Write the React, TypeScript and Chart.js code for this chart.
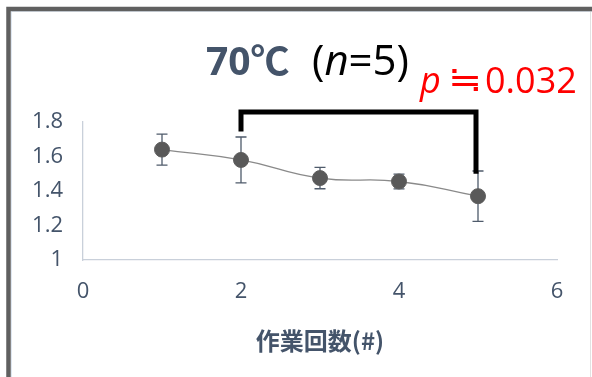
import { useEffect, useRef } from 'react';
import { Chart, registerables } from 'chart.js';

Chart.register(...registerables);

// Mean value per run with its standard deviation
const runs = [1, 2, 3, 4, 5];
const means = [1.64, 1.58, 1.475, 1.455, 1.37];
const errors = [0.09, 0.133, 0.062, 0.043, 0.146];

// Axis ranges
const xRange = [0, 6];
const xStep = 2;
const yRange = [1, 1.8];
const yStep = 0.2;

// Significance bracket between run 2 and run 5
const bracketRuns = [2, 5];
const bracketTop = 1.858;
const bracketEnds = [1.745, 1.5];

const xAxisTitle = '作業回数(#)';
const titleMain = '70℃';
const titleN = ['(', 'n', '=5)'];
const pLabel = ['p', '≒', '0.032'];

const SLATE = '#44546a';
const FONT = '"Open Sans", "Noto Sans CJK JP", sans-serif';
const CJK = '"Noto Sans CJK JP", sans-serif';

const framePlugin = {
  id: 'frame',
  beforeDraw(chart: any) {
    const { ctx, width, height } = chart;
    ctx.save();
    ctx.fillStyle = '#ffffff';
    ctx.fillRect(0, 0, width, height);
    // light inner edge
    ctx.strokeStyle = '#dfe7f1';
    ctx.lineWidth = 1;
    ctx.beginPath();
    ctx.moveTo(11.5, height);
    ctx.lineTo(11.5, 11.5);
    ctx.lineTo(width, 11.5);
    ctx.stroke();
    // right edge
    ctx.strokeStyle = '#e2e2e2';
    ctx.beginPath();
    ctx.moveTo(590.5, 11);
    ctx.lineTo(590.5, height);
    ctx.stroke();
    // dark outer frame
    ctx.strokeStyle = '#606060';
    ctx.lineWidth = 4.5;
    ctx.beginPath();
    ctx.moveTo(8.5, height);
    ctx.lineTo(8.5, 9);
    ctx.lineTo(width, 9);
    ctx.stroke();
    ctx.restore();
  },
};

const errorBarPlugin = {
  id: 'errorBars',
  beforeDatasetsDraw(chart: any) {
    const { ctx } = chart;
    const xs = chart.scales.x;
    const ys = chart.scales.y;
    ctx.save();
    ctx.strokeStyle = '#4f5b6b';
    ctx.lineWidth = 1.3;
    runs.forEach((r, i) => {
      const x = xs.getPixelForValue(r);
      const top = ys.getPixelForValue(means[i] + errors[i]);
      const bot = ys.getPixelForValue(means[i] - errors[i]);
      ctx.beginPath();
      ctx.moveTo(x, top);
      ctx.lineTo(x, bot);
      ctx.moveTo(x - 5.5, top);
      ctx.lineTo(x + 5.5, top);
      ctx.moveTo(x - 5.5, bot);
      ctx.lineTo(x + 5.5, bot);
      ctx.stroke();
    });
    ctx.restore();
  },
};

const drawSegments = (ctx: any, x: number, y: number, parts: { text: string; font: string; color: string }[]) => {
  let cx = x;
  parts.forEach((p) => {
    ctx.font = p.font;
    ctx.fillStyle = p.color;
    ctx.fillText(p.text, cx, y);
    cx += ctx.measureText(p.text).width;
  });
};

const annotationPlugin = {
  id: 'annotations',
  afterDraw(chart: any) {
    const { ctx } = chart;
    const xs = chart.scales.x;
    const ys = chart.scales.y;
    ctx.save();
    // bracket
    const xl = xs.getPixelForValue(bracketRuns[0]);
    const xr = xs.getPixelForValue(bracketRuns[1]);
    const yt = ys.getPixelForValue(bracketTop);
    ctx.strokeStyle = '#000000';
    ctx.lineWidth = 5;
    ctx.lineJoin = 'miter';
    ctx.lineCap = 'butt';
    ctx.beginPath();
    ctx.moveTo(xl, ys.getPixelForValue(bracketEnds[0]));
    ctx.lineTo(xl, yt);
    ctx.lineTo(xr - 2, yt);
    ctx.lineTo(xr - 2, ys.getPixelForValue(bracketEnds[1]));
    ctx.stroke();

    // title
    ctx.textAlign = 'left';
    ctx.textBaseline = 'alphabetic';
    drawSegments(ctx, 206, 75, [
      { text: titleMain, font: `bold 39px ${FONT}`, color: SLATE },
    ]);
    drawSegments(ctx, 312, 75, [
      { text: titleN[0], font: `42px ${FONT}`, color: '#000000' },
      { text: titleN[1], font: `italic 42px ${FONT}`, color: '#000000' },
      { text: titleN[2], font: `42px ${FONT}`, color: '#000000' },
    ]);

    // p value: italic p, a widened ≒, then the number
    ctx.fillStyle = '#ff0000';
    ctx.font = `italic 36px ${FONT}`;
    ctx.fillText(pLabel[0], 420, 93);
    ctx.font = `36px ${CJK}`;
    const w = ctx.measureText(pLabel[1]).width;
    const sx = w > 0 ? 34 / w : 1;
    ctx.save();
    ctx.translate(465, 92);
    ctx.scale(Math.min(Math.max(sx, 1), 1.6), 1);
    ctx.textAlign = 'center';
    ctx.fillText(pLabel[1], 0, 0);
    ctx.restore();
    ctx.font = `36px ${FONT}`;
    ctx.textAlign = 'left';
    ctx.fillText(pLabel[2], 485, 93);
    ctx.restore();
  },
};

export default function App() {
  const canvasRef = useRef<HTMLCanvasElement | null>(null);

  useEffect(() => {
    if (!canvasRef.current) return;
    const chart = new Chart(canvasRef.current, {
      type: 'line',
      data: {
        datasets: [
          {
            data: runs.map((r, i) => ({ x: r, y: means[i] })),
            borderColor: '#8a8a8a',
            borderWidth: 1.3,
            tension: 0.5,
            pointRadius: 7.5,
            pointBackgroundColor: '#595959',
            pointBorderColor: '#5e5e5e',
            pointBorderWidth: 1,
            clip: false,
          },
        ],
      },
      options: {
        animation: false,
        responsive: true,
        maintainAspectRatio: false,
        layout: { padding: { left: 0, top: 122, right: 35, bottom: 0 } },
        plugins: {
          legend: { display: false },
          tooltip: { enabled: false },
          title: { display: false },
        },
        scales: {
          x: {
            type: 'linear',
            min: xRange[0],
            max: xRange[1],
            ticks: { stepSize: xStep, padding: 19, color: SLATE, font: { family: FONT, size: 22 } },
            grid: { display: false, drawTicks: false },
            border: { display: true, color: '#c9d0da', width: 1.3 },
            title: {
              display: true,
              text: xAxisTitle,
              color: SLATE,
              font: { family: CJK, size: 24, weight: 'bold' },
              padding: { top: 0, bottom: 22 },
            },
            afterFit(scale: any) {
              scale.height = 117;
            },
          },
          y: {
            type: 'linear',
            min: yRange[0],
            max: yRange[1],
            ticks: {
              stepSize: yStep,
              padding: 20,
              color: SLATE,
              font: { family: FONT, size: 22 },
              callback: (v: any) => String(Math.round(Number(v) * 10) / 10),
            },
            grid: { display: false, drawTicks: false },
            border: { display: true, color: '#c9d0da', width: 1.3 },
            afterFit(scale: any) {
              scale.width = 83;
            },
          },
        },
      },
      plugins: [framePlugin, errorBarPlugin, annotationPlugin],
    } as any);
    return () => chart.destroy();
  }, []);

  return (
    <div style={{ position: 'fixed', left: 0, top: 0, width: 592, height: 377 }}>
      <canvas ref={canvasRef} />
    </div>
  );
}
